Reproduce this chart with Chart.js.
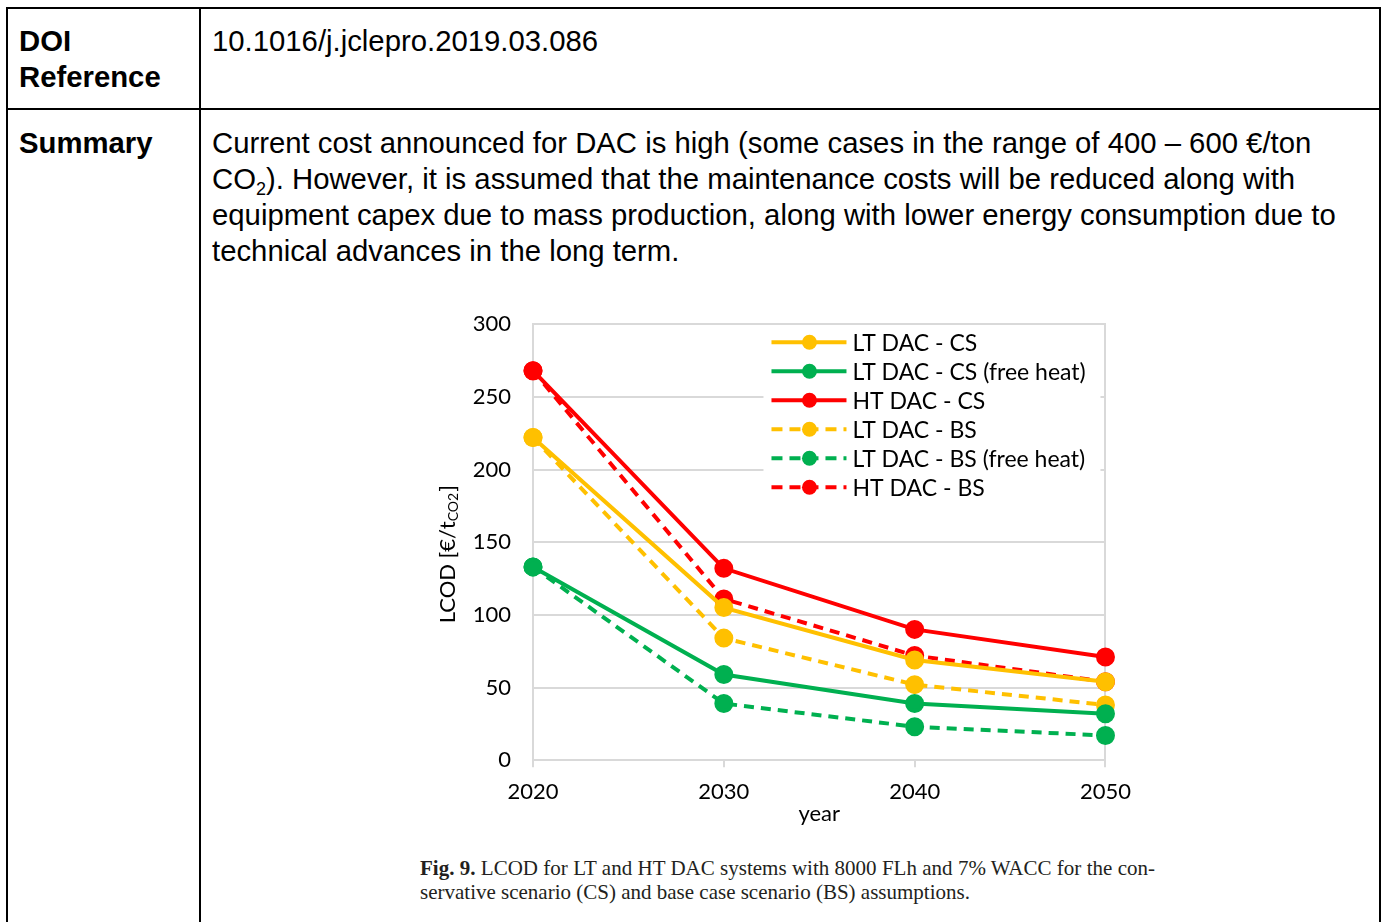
<!DOCTYPE html>
<html>
<head>
<meta charset="utf-8">
<script src="https://cdn.jsdelivr.net/npm/chart.js@4/dist/chart.umd.min.js"></script>
<style>
    html, body { margin: 0; padding: 0; background: #fff; }
    body { width: 1383px; height: 922px; position: relative; overflow: hidden;
           font-family: "Liberation Sans", Arial, sans-serif; color: #000; }
    .rule { position: absolute; background: #000; }
    .cell { position: absolute; font-size: 29.3px; line-height: 36px; white-space: nowrap; }
    .head { font-weight: bold; }
    sub { font-size: 18px; line-height: 0; vertical-align: -6px; }
    #chartBox { position: absolute; left: 430px; top: 289px; width: 713px; height: 546px; }
    #caption { position: absolute; left: 420px; top: 856px; width: 735px;
               font-family: "Liberation Serif", "DejaVu Serif", serif; font-size: 21px;
               line-height: 24px; color: #231f20; }
    #caption .l1 { display: block; text-align: justify; text-align-last: justify; white-space: nowrap; }
</style>
</head>
<body>

<!-- table rules -->
<div class="rule" style="left:6px; top:7px; width:1375px; height:2px;"></div>
<div class="rule" style="left:6px; top:108px; width:1375px; height:2px;"></div>
<div class="rule" style="left:6px; top:7px; width:2px; height:915px;"></div>
<div class="rule" style="left:199px; top:7px; width:2px; height:915px;"></div>
<div class="rule" style="left:1379px; top:7px; width:2px; height:915px;"></div>

<div class="cell head" style="left:19px; top:23px;">DOI<br>Reference</div>
<div class="cell" style="left:212px; top:23px;">10.1016/j.jclepro.2019.03.086</div>

<div class="cell head" style="left:19px; top:125px;">Summary</div>
<div class="cell" style="left:212px; top:125px;">
Current cost announced for DAC is high (some cases in the range of 400 – 600 €/ton<br>
CO<sub>2</sub>). However, it is assumed that the maintenance costs will be reduced along with<br>
equipment capex due to mass production, along with lower energy consumption due to<br>
technical advances in the long term.
</div>

<div id="chartBox"><canvas id="lcodChart" width="713" height="546"></canvas></div>

<div id="caption">
    <span class="l1"><b>Fig. 9.</b> LCOD for LT and HT DAC systems with 8000 FLh and 7% WACC for the con-</span>
    servative scenario (CS) and base case scenario (BS) assumptions.
</div>

<script>
/* LCOD chart (Fig. 9) */

const years = ["2020", "2030", "2040", "2050"];
const yTicks = [0, 50, 100, 150, 200, 250, 300];

// values in €/t CO2
const ltCs = [222, 105, 69, 54];
const ltCsFree = [133, 59, 39, 32];
const htCs = [268, 132, 90, 71];
const ltBs = [222, 84, 52, 38];
const ltBsFree = [133, 39, 23, 17];
const htBs = [268, 111, 72, 54];

const YELLOW = "#ffc000";
const GREEN = "#00b050";
const RED = "#ff0000";
const GRID = "#d9d9d9";
const DASH = [10, 7];
const FONT = "Lato, 'Open Sans', sans-serif";
const FS = 22;

function series(label, data, color, dashed) {
    return {
        label: label,
        data: data,
        borderColor: color,
        backgroundColor: color,
        pointBackgroundColor: color,
        pointBorderColor: color,
        borderWidth: 4,
        borderDash: dashed ? DASH : [],
        pointRadius: 7.5,
        pointHoverRadius: 7.5,
        tension: 0,
        fill: false
    };
}

// legend drawn inside the plot area, like the Excel original
const insideLegend = {
    id: "insideLegend",
    afterDatasetsDraw(chart) {
        const ctx = chart.ctx;
        const a = chart.chartArea;
        const x0 = a.right - 334;
        const y0 = a.top + 18;
        const rowH = 29;
        const sets = chart.data.datasets;

        ctx.save();
        ctx.fillStyle = "#fff";
        ctx.fillRect(x0 - 8, a.top + 3, 337, rowH * sets.length + 2);
        ctx.font = "23px " + FONT;
        ctx.textBaseline = "middle";
        sets.forEach((ds, i) => {
            const y = y0 + i * rowH;
            ctx.strokeStyle = ds.borderColor;
            ctx.lineWidth = 4;
            ctx.setLineDash(ds.borderDash.length ? [11, 7] : []);
            ctx.beginPath();
            ctx.moveTo(x0, y);
            ctx.lineTo(x0 + 75, y);
            ctx.stroke();
            ctx.setLineDash([]);
            ctx.fillStyle = ds.borderColor;
            ctx.beginPath();
            ctx.arc(x0 + 38, y, 7.5, 0, Math.PI * 2);
            ctx.fill();
            ctx.fillStyle = "#000";
            ctx.fillText(ds.label, x0 + 81, y + 1);
        });
        ctx.restore();
    }
};

// y title with the CO2 subscript
const yTitle = {
    id: "yTitle",
    afterDraw(chart) {
        const ctx = chart.ctx;
        const a = chart.chartArea;
        const main = "LCOD [€/t";
        const sub = "CO2";
        const end = "]";
        ctx.save();
        ctx.font = FS + "px " + FONT;
        const wMain = ctx.measureText(main).width;
        const wEnd = ctx.measureText(end).width;
        ctx.font = "14px " + FONT;
        const wSub = ctx.measureText(sub).width;
        const total = wMain + wSub + wEnd + 1;
        ctx.translate(chart.scales.y.left + 18, (a.top + a.bottom) / 2 + 12);
        ctx.rotate(-Math.PI / 2);
        ctx.fillStyle = "#000";
        ctx.textBaseline = "middle";
        let x = -total / 2;
        ctx.font = FS + "px " + FONT;
        ctx.fillText(main, x, 0);
        x += wMain;
        ctx.font = "14px " + FONT;
        ctx.fillText(sub, x, 5);
        x += wSub + 1;
        ctx.font = FS + "px " + FONT;
        ctx.fillText(end, x, 0);
        ctx.restore();
    }
};

new Chart(document.getElementById("lcodChart"), {
    type: "line",
    data: {
        labels: years,
        datasets: [
            series("LT DAC - CS", ltCs, YELLOW, false),
            series("LT DAC - CS (free heat)", ltCsFree, GREEN, false),
            series("HT DAC - CS", htCs, RED, false),
            series("LT DAC - BS", ltBs, YELLOW, true),
            series("LT DAC - BS (free heat)", ltBsFree, GREEN, true),
            series("HT DAC - BS", htBs, RED, true)
        ]
    },
    options: {
        responsive: false,
        animation: false,
        layout: { padding: { top: 4, right: 26, bottom: 4, left: 0 } },
        plugins: {
            legend: { display: false },
            tooltip: { enabled: false }
        },
        scales: {
            x: {
                offset: false,
                grid: { drawOnChartArea: false, color: GRID, lineWidth: 2, tickLength: 7 },
                border: { color: GRID, width: 2 },
                ticks: { color: "#000", font: { family: FONT, size: FS }, padding: 12, maxRotation: 0 },
                title: { display: true, text: "year", color: "#000",
                         font: { family: FONT, size: FS }, padding: { top: -17, bottom: 4 } }
            },
            y: {
                min: 0,
                max: 300,
                afterBuildTicks: (scale) => { scale.ticks = yTicks.map(v => ({ value: v })); },
                afterFit: (scale) => { scale.width = 103; },
                grid: { color: GRID, lineWidth: 2, drawTicks: false },
                border: { color: GRID, width: 2 },
                ticks: { color: "#000", font: { family: FONT, size: FS }, padding: 22 }
            },
            y2: {
                position: "right",
                min: 0,
                max: 300,
                grid: { drawOnChartArea: false, drawTicks: false },
                border: { color: GRID, width: 2 },
                ticks: { display: false }
            }
        }
    },
    plugins: [insideLegend, yTitle]
});
</script>
</body>
</html>
